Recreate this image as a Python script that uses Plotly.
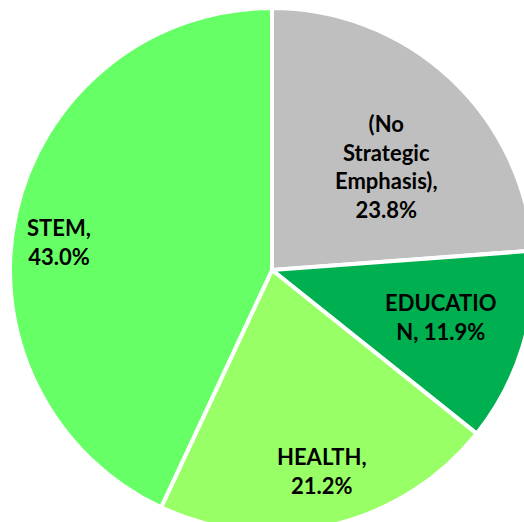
import numpy as np
import plotly.graph_objects as go

# 數據
categories = ["(No Strategic Emphasis)", "EDUCATION", "HEALTH", "STEM"]
values = [23.8, 11.9, 21.2, 43.0]
wrapped = ["(No<br>Strategic<br>Emphasis),", "EDUCATIO<br>N,", "HEALTH,", "STEM,"]
seps = ["<br>", " ", "<br>", "<br>"]
colors = ["#BFBFBF", "#00B050", "#99FF66", "#66FF66"]

# label placement (fraction of radius, angle offset in degrees)
label_r = [0.59, 0.67, 0.79, 0.82]
label_da = [5, -1.7, -0.7, -5]

fig = go.Figure(go.Pie(
    labels=categories,
    values=values,
    textinfo="none",
    sort=False,
    direction="clockwise",
    rotation=0,
    marker=dict(colors=colors, line=dict(color="white", width=4)),
    hoverinfo="label+percent",
))

total = sum(values)
cum = np.cumsum([0] + values[:-1])
for i, v in enumerate(values):
    ang = np.radians((cum[i] + v / 2) / total * 360 + label_da[i])
    pct = v / total * 100
    fig.add_annotation(
        x=0.5 + 0.5 * label_r[i] * np.sin(ang),
        y=0.5 + 0.5 * label_r[i] * np.cos(ang),
        xref="paper", yref="paper", xanchor="center", yanchor="middle",
        text=f"{wrapped[i]}{seps[i]}{pct:.1f}%",
        showarrow=False, align="center",
        font=dict(family="Lato, Open Sans, sans-serif", size=22, color="black", weight="bold"),
    )

fig.update_layout(
    width=544, height=540,
    margin=dict(l=10, r=10, t=8, b=8),
    showlegend=False,
    paper_bgcolor="white",
)

fig.write_html("out.html", config={"displayModeBar": False},
               post_script="document.body.style.overflow='hidden';document.body.style.margin='0';")
